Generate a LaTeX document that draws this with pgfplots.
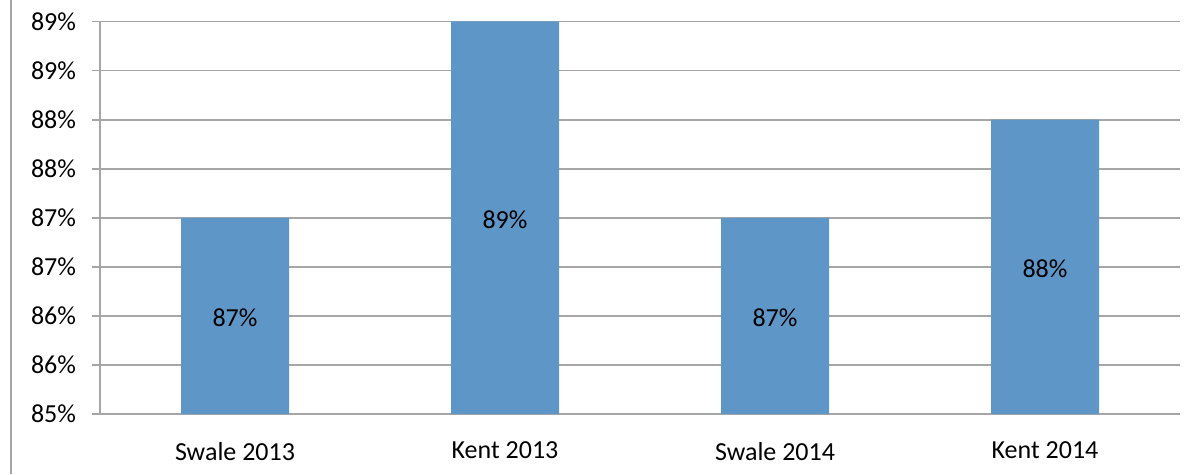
\documentclass[border=0pt]{standalone}
\usepackage{pgfplots}
\pgfplotsset{compat=1.18}
\usepackage{fontspec}
\setmainfont{Carlito}

\definecolor{barblue}{RGB}{95,150,200}
\definecolor{gridgray}{RGB}{166,166,166}

\begin{document}
\begin{tikzpicture}[x=1bp,y=1bp]
  % page frame and the chart-area edge on the left
  \path[use as bounding box] (0,0) rectangle (600,237);
  \draw[gridgray, line width=0.9bp] (5.5,0) -- (5.5,237);

  \begin{axis}[
    at={(50bp,30bp)}, anchor=south west,
    scale only axis,
    width=540bp, height=196.25bp,
    xmin=-0.5, xmax=3.5,
    ymin=85, ymax=89,
    ytick={85,85.5,86,86.5,87,87.5,88,88.5,89},
    yticklabels={85\%,86\%,86\%,87\%,87\%,88\%,88\%,89\%,89\%},
    xtick={0,1,2,3},
    xticklabels={Swale 2013,Kent 2013,Swale 2014,Kent 2014},
    extra x ticks={-0.5,0.5,1.5,2.5,3.5},
    extra x tick labels={},
    extra x tick style={major tick length=4bp, tick style={gridgray, line width=0.9bp}, grid=none},
    axis x line*=bottom,
    axis y line*=left,
    axis line style={gridgray, line width=0.9bp, -},
    x axis line style={-},
    y axis line style={-},
    ymajorgrids=true,
    grid style={gridgray, line width=0.9bp},
    tick align=outside,
    major tick length=4bp,
    xtick style={draw=none},
    ytick style={gridgray, line width=0.9bp},
    tick label style={font=\fontsize{13bp}{15.6bp}\selectfont, text=black},
    yticklabel style={xshift=-4.5bp},
    xticklabel style={yshift=-6.5bp},
    /pgf/number format/assume math mode=true,
    clip=false,
  ]
    \addplot[
      ybar, bar width=54bp, fill=barblue, draw=none,
      visualization depends on={rawy \as \rawy},
      nodes near coords={\pgfmathprintnumber[fixed,precision=0]{\rawy}\%},
      every node near coord/.append style={
        anchor=center, font=\fontsize{13bp}{15.6bp}\selectfont, text=black,
        yshift={-(\rawy-85)*24.53bp-1bp}},
    ] coordinates {
      (0,87) (1,89) (2,87) (3,88)
    };
  \end{axis}
\end{tikzpicture}
\end{document}
